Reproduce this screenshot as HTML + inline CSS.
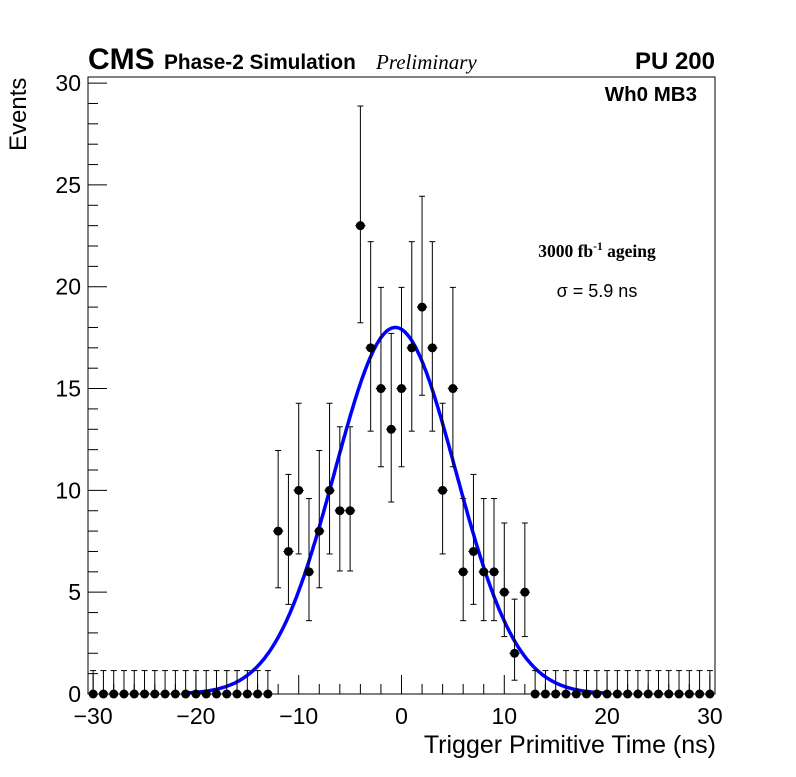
<!DOCTYPE html>
<html><head><meta charset="utf-8"><style>
body{margin:0;background:#fff;}
svg text{font-family:"Liberation Sans",sans-serif;}
</style></head><body>
<svg id="chart" width="796" height="772" xmlns="http://www.w3.org/2000/svg">
<rect width="796" height="772" fill="#fff"/>
<g id="axes"></g>
<g id="fit"></g>
<g id="points"></g>
<text x="88" y="69" font-size="30" font-weight="bold">CMS</text>
<text x="164" y="69" font-size="20.8" font-weight="bold">Phase-2 Simulation</text>
<text x="376" y="69" font-size="21" font-style="italic" style="font-family:'Liberation Serif',serif">Preliminary</text>
<text x="715" y="69" font-size="24" font-weight="bold" text-anchor="end">PU 200</text>
<text x="697" y="101" font-size="20.5" font-weight="bold" text-anchor="end">Wh0 MB3</text>
<text x="597" y="257" font-size="17.5" font-weight="bold" text-anchor="middle" style="font-family:'Liberation Serif',serif">3000 fb<tspan dy="-7" font-size="11.5">-1</tspan><tspan dy="7"> ageing</tspan></text>
<text x="597" y="297" font-size="18" text-anchor="middle">σ = 5.9 ns</text>
<text transform="translate(26,151) rotate(-90)" font-size="24">Events</text>
<text x="716" y="753" font-size="25" text-anchor="end">Trigger Primitive Time (ns)</text>
</svg>
<script>
const binCenters = [-30,-29,-28,-27,-26,-25,-24,-23,-22,-21,-20,-19,-18,-17,-16,-15,-14,-13,-12,-11,-10,-9,-8,-7,-6,-5,-4,-3,-2,-1,0,1,2,3,4,5,6,7,8,9,10,11,12,13,14,15,16,17,18,19,20,21,22,23,24,25,26,27,28,29,30];
const counts = [0,0,0,0,0,0,0,0,0,0,0,0,0,0,0,0,0,0,8,7,10,6,8,10,9,9,23,17,15,13,15,17,19,17,10,15,6,7,6,6,5,2,5,0,0,0,0,0,0,0,0,0,0,0,0,0,0,0,0,0,0];
const xTicks = [-30,-20,-10,0,10,20,30];
const yTicks = [0,5,10,15,20,25,30];
const fitAmp = [18];
const fitMean = [-0.6];
const fitSigma = [5.9];
const fitRange = [-21,20];

const NS='http://www.w3.org/2000/svg';
const L=88,R=715,T=77,B=694,xmin=-30.5,xmax=30.5,ymin=0,ymax=30.3;
const X=v=>L+(v-xmin)/(xmax-xmin)*(R-L);
const Y=v=>B-(v-ymin)/(ymax-ymin)*(B-T);
function mk(tag,attrs,parent){const e=document.createElementNS(NS,tag);for(const k in attrs)e.setAttribute(k,attrs[k]);parent.appendChild(e);return e;}
const ax=document.getElementById('axes');
const frame=mk('rect',{x:L,y:T,width:R-L,height:B-T,fill:'none',stroke:'#000','stroke-width':1},ax);


for(let v=-30;v<=30;v+=2){const maj=v%10===0;const t=mk('line',{x1:X(v),x2:X(v),y1:B,y2:B-(maj?19:10),stroke:'#000'},ax);

}
for(let v=0;v<=30;v+=1){const maj=v%5===0;const t=mk('line',{x1:L,x2:L+(maj?19:10),y1:Y(v),y2:Y(v),stroke:'#000'},ax);

}
xTicks.forEach(v=>{const t=mk('text',{x:X(v),y:724,'font-size':23,'text-anchor':'middle'},ax);t.textContent=(v<0?'\u2212'+(-v):v);

});
yTicks.forEach(v=>{const t=mk('text',{x:81,y:Y(v)+8,'font-size':23,'text-anchor':'end'},ax);t.textContent=v;

});
const fg=document.getElementById('fit');let d='';
for(let x=fitRange[0];x<=fitRange[1]+1e-9;x+=0.1){const y=fitAmp[0]*Math.exp(-0.5*Math.pow((x-fitMean[0])/fitSigma[0],2));d+=(d?'L':'M')+X(x).toFixed(1)+','+Y(y).toFixed(1);}
const fp=mk('path',{d:d,fill:'none',stroke:'#0000ff','stroke-width':3.5},fg);


const pg=document.getElementById('points');
binCenters.forEach((c,i)=>{const n=counts[i];
 const up=n===0?1.15:Math.sqrt(n+0.75)+1, lo=n===0?0:Math.sqrt(Math.max(n-0.25,0));
 const g=mk('g',{},pg);
 
 
 const x=X(c);
 mk('line',{x1:x,x2:x,y1:Y(n+up),y2:Y(n-lo),stroke:'#000','stroke-width':1},g);
 mk('line',{x1:x-3,x2:x+3,y1:Y(n+up),y2:Y(n+up),stroke:'#000'},g);
 if(lo>0)mk('line',{x1:x-3,x2:x+3,y1:Y(n-lo),y2:Y(n-lo),stroke:'#000'},g);
 mk('line',{x1:X(c-0.5),x2:X(c+0.5),y1:Y(n),y2:Y(n),stroke:'#000'},g);
 mk('circle',{cx:x,cy:Y(n),r:4.5,fill:'#000'},g);
});
</script>
</body></html>
